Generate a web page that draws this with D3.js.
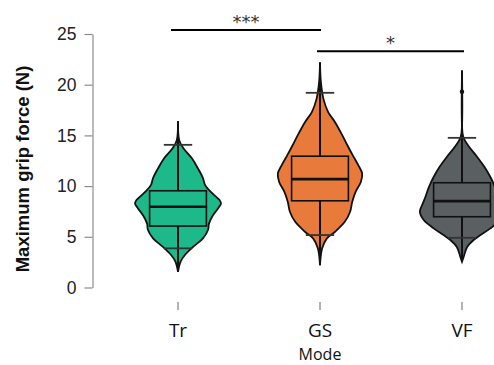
<!DOCTYPE html>
<html>
<head>
<meta charset="utf-8">
<script src="https://cdn.jsdelivr.net/npm/d3@7"></script>
<style>
  body { margin: 0; background: #fff; }
  svg { display: block; }
</style>
</head>
<body>
<div id="chart"></div>
<script>
var modes = ["Tr", "GS", "VF"];
var fills = ["#1db98a", "#e87b3c", "#5a5f61"];

// box plot stats (N)
var q1 = [6.06, 8.55, 6.98];
var medians = [7.96, 10.69, 8.52];
var q3 = [9.54, 12.95, 10.33];
var whiskLo = [3.86, 5.17, 4.9];
var whiskHi = [14.07, 19.2, 14.76];
var dataMin = [1.56, 2.2, 2.54];
var dataMax = [16.4, 22.2, 21.4];
var outliers = [[], [], [19.3]];

// violin outlines: [value, relative density]
var densTr = [[1.55,0],[2.55,0.06],[3.2,0.16],[4.0,0.35],[4.85,0.58],[5.7,0.70],[6.3,0.72],[7.1,0.81],
  [7.8,0.93],[8.3,1.0],[8.6,0.97],[9.4,0.77],[10.1,0.63],[10.8,0.58],[11.7,0.47],[12.7,0.33],
  [13.7,0.13],[14.5,0.03],[16.4,0]];
var densGS = [[2.2,0],[3.86,0.05],[4.85,0.16],[5.5,0.35],[6.5,0.58],[7.47,0.70],[8.45,0.75],[9.45,0.83],
  [10.4,0.95],[11.25,0.98],[12.07,0.89],[13.05,0.76],[14.0,0.64],[15.0,0.52],[16.3,0.35],[17.3,0.19],
  [18.6,0.08],[20.3,0.02],[22.2,0]];
var densVF = [[2.54,0],[3.03,0.04],[4.0,0.12],[4.68,0.27],[5.17,0.43],[5.83,0.66],[6.65,0.89],[7.47,0.98],
  [8.3,0.91],[8.95,0.85],[9.9,0.77],[10.9,0.66],[11.9,0.52],[12.9,0.35],[13.9,0.16],[14.85,0.03],
  [16,0],[21.4,0]];
var densities = [densTr, densGS, densVF];

var yTicks = [0, 5, 10, 15, 20, 25];
// significance brackets: [from, to, label, height]
var sigs = [["Tr", "GS", "***", 25.4], ["GS", "VF", "*", 23.3]];

var W = 494, H = 365;
var svg = d3.select('#chart').append('svg')
    .attr('width', W)
    .attr('height', H);

var y = d3.scaleLinear().domain([0, 25]).range([287.5, 34]);
var x = d3.scalePoint().domain(modes).range([178, 462]);
var step = x.step();
var w = d3.scaleLinear().domain([0, 1]).range([0, 43]);

// y axis
var yAxis = svg.append('g')
    .attr('transform', 'translate(92.5,0)')
    .call(d3.axisLeft(y).tickValues(yTicks).tickSize(8).tickSizeOuter(0).tickPadding(8));
yAxis.select('.domain').attr('stroke', '#8c8c8c').attr('stroke-width', 1.2);
yAxis.selectAll('.tick line').attr('stroke', '#8c8c8c').attr('stroke-width', 1.2);
yAxis.selectAll('.tick text')
    .attr('fill', '#222')
    .attr('font-family', 'Liberation Sans, Arial, sans-serif')
    .attr('font-size', 17.5);

svg.append('text')
    .attr('transform', 'translate(29,169) rotate(-90)')
    .attr('text-anchor', 'middle')
    .attr('font-family', 'Liberation Sans, Arial, sans-serif')
    .attr('font-weight', 'bold')
    .attr('font-size', 18.5)
    .attr('fill', '#111')
    .text('Maximum grip force (N)');

// x ticks + labels
var xg = svg.append('g');
xg.selectAll('line').data(modes).enter().append('line')
    .attr('x1', function(d) { return x(d); })
    .attr('x2', function(d) { return x(d); })
    .attr('y1', 302).attr('y2', 310)
    .attr('stroke', '#666').attr('stroke-width', 1);
xg.selectAll('text').data(modes).enter().append('text')
    .attr('x', function(d) { return x(d); })
    .attr('y', 337)
    .attr('text-anchor', 'middle')
    .attr('font-family', 'Open Sans, Noto Sans, sans-serif')
    .attr('font-size', 19)
    .attr('fill', '#111')
    .text(function(d) { return d; });

svg.append('text')
    .attr('x', 320).attr('y', 360)
    .attr('text-anchor', 'middle')
    .attr('font-family', 'Open Sans, Noto Sans, sans-serif')
    .attr('font-size', 16)
    .attr('fill', '#111')
    .text('Mode');

// violins
var groups = svg.selectAll('.violin').data(modes).enter().append('g')
    .attr('class', 'violin');

groups.append('path')
    .attr('d', function(d, i) {
        var cx = x(d);
        return d3.area()
            .curve(d3.curveCatmullRom)
            .y(function(p) { return y(p[0]); })
            .x0(function(p) { return cx - w(p[1]); })
            .x1(function(p) { return cx + w(p[1]); })(densities[i]);
    })
    .attr('fill', function(d, i) { return fills[i]; })
    .attr('stroke', '#111')
    .attr('stroke-width', 1.8);

// whisker line from min to max
groups.append('line')
    .attr('x1', function(d) { return x(d); })
    .attr('x2', function(d) { return x(d); })
    .attr('y1', function(d, i) { return y(dataMin[i]); })
    .attr('y2', function(d, i) { return y(dataMax[i]); })
    .attr('stroke', '#111').attr('stroke-width', 2);

// caps
[whiskLo, whiskHi].forEach(function(arr) {
    groups.append('line')
        .attr('x1', function(d) { return x(d) - step * 0.1; })
        .attr('x2', function(d) { return x(d) + step * 0.1; })
        .attr('y1', function(d, i) { return y(arr[i]); })
        .attr('y2', function(d, i) { return y(arr[i]); })
        .attr('stroke', '#333').attr('stroke-width', 1.8);
});

// boxes
groups.append('rect')
    .attr('x', function(d) { return x(d) - step * 0.2; })
    .attr('width', step * 0.4)
    .attr('y', function(d, i) { return y(q3[i]); })
    .attr('height', function(d, i) { return y(q1[i]) - y(q3[i]); })
    .attr('fill', function(d, i) { return fills[i]; })
    .attr('stroke', '#111')
    .attr('stroke-width', 1.6);

groups.append('line')
    .attr('x1', function(d) { return x(d) - step * 0.2; })
    .attr('x2', function(d) { return x(d) + step * 0.2; })
    .attr('y1', function(d, i) { return y(medians[i]); })
    .attr('y2', function(d, i) { return y(medians[i]); })
    .attr('stroke', '#111').attr('stroke-width', 2.6);

groups.each(function(d, i) {
    d3.select(this).selectAll('circle').data(outliers[i]).enter().append('circle')
        .attr('cx', x(d))
        .attr('cy', function(v) { return y(v); })
        .attr('r', 2.2)
        .attr('fill', '#111');
});

// significance brackets
var sg = svg.append('g');
sigs.forEach(function(s) {
    var x1 = x(s[0]) - 7, x2 = x(s[1]) + 1;
    if (s[0] === "GS") { x1 = x(s[0]) - 3; x2 = x(s[1]) + 2; }
    sg.append('line')
        .attr('x1', x1).attr('x2', x2)
        .attr('y1', y(s[3])).attr('y2', y(s[3]))
        .attr('stroke', '#000').attr('stroke-width', 2);
    sg.append('text')
        .attr('x', (x1 + x2) / 2)
        .attr('y', y(s[3]) - 2)
        .attr('text-anchor', 'middle')
        .attr('font-family', 'DejaVu Sans, sans-serif')
        .attr('font-size', 18)
        .attr('fill', '#333')
        .text(s[2]);
});
</script>
</body>
</html>
